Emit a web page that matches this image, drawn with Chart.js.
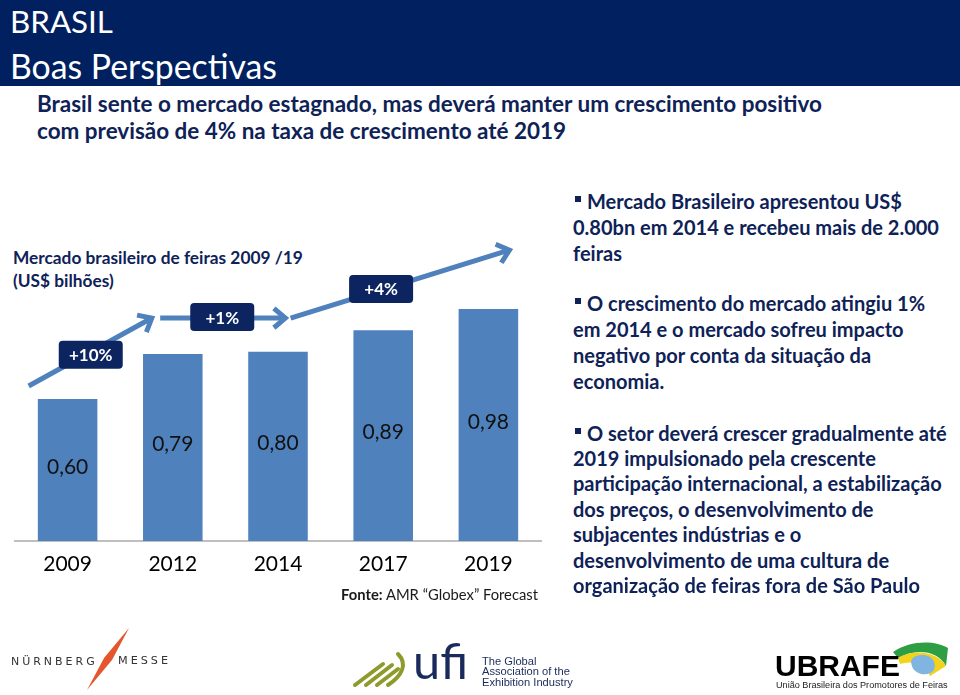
<!DOCTYPE html>
<html>
<head>
<meta charset="utf-8">
<script src="https://cdn.jsdelivr.net/npm/chart.js@4.4.1/dist/chart.umd.min.js"></script>
<style>
html, body { margin: 0; padding: 0; background: #fff; }
#slide { position: relative; width: 960px; height: 695px; overflow: hidden; font-family: Lato, 'Noto Sans', sans-serif; }
#header { position: absolute; left: 0; top: 0; width: 960px; height: 86px; background: #002060; }
.t { position: absolute; white-space: nowrap; line-height: 1; transform: translateY(-50%); }
.navy { color: #0E2257; font-weight: bold; }
.bul { position: absolute; width: 6px; height: 6px; background: #0E2257; }
.uf { font-size: 11px; color: #1B2A5C; font-family: 'Liberation Sans'; }
#chartBox { position: absolute; left: 0; top: 150px; width: 560px; height: 460px; }
#logos { position: absolute; left: 0; top: 0; }
</style>
</head>
<body>
<div id="slide">
  <div id="header"></div>
  <div class="t" data-w="103" style="left:10px;top:22px;color:#fff;font-size:30px">BRASIL</div>
  <div class="t" data-w="267" style="left:10px;top:67px;color:#fff;font-size:30px">Boas Perspectivas</div>

  <div class="t navy sub" data-w="785" style="left:37px;top:104px;font-size:20px">Brasil sente o mercado estagnado, mas deverá manter um crescimento positivo</div>
  <div class="t navy sub" style="left:37px;top:131px;font-size:20px">com previsão de 4% na taxa de crescimento até 2019</div>

  <div class="t navy ttl" data-w="290" style="left:13px;top:258px;font-size:17px">Mercado brasileiro de feiras 2009 /19</div>
  <div class="t navy ttl" style="left:13px;top:281px;font-size:17px">(US$ bilhões)</div>

  <div id="chartBox"><canvas id="chart" width="560" height="460"></canvas></div>

  <div class="t" data-w="197" style="right:422px;top:594px;font-size:13px;color:#1a1a1a"><b>Fonte:</b> AMR “Globex” Forecast</div>

  <div class="bul" style="left:575px;top:196px"></div>
  <div class="t navy rc" style="left:587px;top:201px;font-size:18px">Mercado Brasileiro apresentou US$</div>
  <div class="t navy rc" style="left:573px;top:227px;font-size:18px">0.80bn em 2014 e recebeu mais de 2.000</div>
  <div class="t navy rc" style="left:573px;top:253px;font-size:18px">feiras</div>
  <div class="bul" style="left:575px;top:298px"></div>
  <div class="t navy rc" style="left:587px;top:303px;font-size:18px">O crescimento do mercado atingiu 1%</div>
  <div class="t navy rc" style="left:573px;top:329px;font-size:18px">em 2014 e o mercado sofreu impacto</div>
  <div class="t navy rc" style="left:573px;top:355px;font-size:18px">negativo por conta da situação da</div>
  <div class="t navy rc" style="left:573px;top:381px;font-size:18px">economia.</div>
  <div class="bul" style="left:575px;top:428px"></div>
  <div class="t navy rc" style="left:587px;top:433px;font-size:18px">O setor deverá crescer gradualmente até</div>
  <div class="t navy rc" style="left:573px;top:458px;font-size:18px">2019 impulsionado pela crescente</div>
  <div class="t navy rc" data-w="369" style="left:573px;top:483px;font-size:18px">participação internacional, a estabilização</div>
  <div class="t navy rc" style="left:573px;top:509px;font-size:18px">dos preços, o desenvolvimento de</div>
  <div class="t navy rc" style="left:573px;top:534px;font-size:18px">subjacentes indústrias e o</div>
  <div class="t navy rc" style="left:573px;top:560px;font-size:18px">desenvolvimento de uma cultura de</div>
  <div class="t navy rc" style="left:573px;top:585px;font-size:18px">organização de feiras fora de São Paulo</div>

  <!-- logos -->
  <svg id="logos" width="960" height="695">
    <polygon points="129,628 112,660 87,690 104,658" fill="#E4572E"/>
    <g stroke="#8E9A2B" stroke-width="4" stroke-linecap="round" fill="none">
      <line x1="355" y1="685" x2="383" y2="664"/>
      <line x1="366" y1="685" x2="392" y2="665"/>
      <line x1="377" y1="685" x2="398" y2="669"/>
      <path d="M388 685 C402 676 408 664 398 654"/>
    </g>
    <path d="M893 652 C910 640 935 640 948 648 L946 666 C938 650 915 648 898 658 Z" fill="#2E9E45"/>
    <path d="M898 658 C915 648 938 652 946 666 L930 676 C925 664 912 660 900 664 Z" fill="#F2D21B"/>
    <path d="M916 656 C928 652 938 660 934 670 C928 678 914 674 912 666 C910 660 912 658 916 656 Z" fill="#7FB5E0"/>
  </svg>
  <div class="t" data-w="83" style="left:11px;top:661px;font-size:13px;letter-spacing:3px;color:#333;font-family:'DejaVu Sans'">NÜRNBERG</div>
  <div class="t" data-w="51" style="left:118px;top:661px;font-size:13px;letter-spacing:3px;color:#333;font-family:'DejaVu Sans'">MESSE</div>
  <div class="t" data-w="55" style="left:413px;top:660px;font-size:56px;color:#1B2A5C">ufi</div>
  <div class="t uf" style="left:482px;top:662px">The Global</div>
  <div class="t uf" data-w="88" style="left:482px;top:672px">Association of the</div>
  <div class="t uf" style="left:482px;top:683px">Exhibition Industry</div>
  <div class="t" data-w="125" style="left:775px;top:666px;font-size:31px;font-weight:bold;color:#000;font-family:'Liberation Sans'">UBRAFE</div>
  <div class="t" data-w="172" style="left:776px;top:686px;font-size:10px;color:#222;font-family:'Liberation Sans'">União Brasileira dos Promotores de Feiras</div>
</div>

<script>
// chart data
const years = ['2009', '2012', '2014', '2017', '2019'];
const marketValues = [0.60, 0.79, 0.80, 0.89, 0.98];
const growthLabels = ['+10%', '+1%', '+4%'];
// annotation arrows and boxes, in category index / value units
const growthArrows = [
    [-0.37, 0.655, 0.80, 0.942],
    [0.88, 0.942, 2.07, 0.942],
    [2.12, 0.942, 4.20, 1.229]
];
const growthBoxes = [[0.22, 0.787], [1.47, 0.946], [2.98, 1.065]];

const barBlue = '#4F81BD';
const boxNavy = '#0C2560';

function drawArrow(ctx, x1, y1, x2, y2) {
    const a = Math.atan2(y2 - y1, x2 - x1);
    const h = 15, s = 0.7;
    ctx.beginPath();
    ctx.moveTo(x1, y1);
    ctx.lineTo(x2 - 2 * Math.cos(a), y2 - 2 * Math.sin(a));
    ctx.stroke();
    ctx.beginPath();
    ctx.moveTo(x2 - h * Math.cos(a - s), y2 - h * Math.sin(a - s));
    ctx.lineTo(x2, y2);
    ctx.lineTo(x2 - h * Math.cos(a + s), y2 - h * Math.sin(a + s));
    ctx.stroke();
}

const labelPlugin = {
    id: 'labels',
    afterDatasetsDraw(chart) {
        const ctx = chart.ctx;
        const xs = chart.scales.x, ys = chart.scales.y;
        ctx.save();
        // values inside bars
        ctx.font = '21px Lato';
        ctx.fillStyle = '#111';
        ctx.textAlign = 'center';
        ctx.textBaseline = 'middle';
        chart.getDatasetMeta(0).data.forEach(function(bar, i) {
            const txt = marketValues[i].toFixed(2).replace('.', ',');
            ctx.fillText(txt, bar.x, (bar.y + bar.base) / 2 - 3);
        });
        // growth arrows
        ctx.strokeStyle = barBlue;
        ctx.lineWidth = 5;
        ctx.lineJoin = 'miter';
        growthArrows.forEach(function(a) {
            drawArrow(ctx, xs.getPixelForValue(a[0]), ys.getPixelForValue(a[1]),
                xs.getPixelForValue(a[2]), ys.getPixelForValue(a[3]));
        });
        // growth boxes
        ctx.font = 'bold 17px Lato';
        growthBoxes.forEach(function(b, i) {
            const cx = xs.getPixelForValue(b[0]), cy = ys.getPixelForValue(b[1]);
            ctx.fillStyle = boxNavy;
            ctx.beginPath();
            ctx.roundRect(cx - 32, cy - 14, 64, 28, 4);
            ctx.fill();
            ctx.fillStyle = '#fff';
            ctx.fillText(growthLabels[i], cx, cy + 1);
        });
        ctx.restore();
    }
};

function fitTexts() {
    document.querySelectorAll('.t[data-w]').forEach(function(el) {
        const w = el.getBoundingClientRect().width;
        const fs = parseFloat(getComputedStyle(el).fontSize);
        const nfs = fs * parseFloat(el.dataset.w) / w;
        el.style.fontSize = nfs + 'px';
        // other lines of the same block take the same size
        ['sub', 'ttl', 'rc', 'uf'].forEach(function(g) {
            if (el.classList.contains(g)) {
                document.querySelectorAll('.' + g).forEach(function(o) { o.style.fontSize = nfs + 'px'; });
            }
        });
    });
}

function build() {
    fitTexts();
    new Chart(document.getElementById('chart'), {
        type: 'bar',
        data: {
            labels: years,
            datasets: [{
                data: marketValues,
                backgroundColor: barBlue,
                borderWidth: 0,
                barPercentage: 0.566,
                categoryPercentage: 1
            }]
        },
        options: {
            responsive: false,
            animation: false,
            devicePixelRatio: 1,
            layout: { padding: { left: 15, right: 19, top: 107, bottom: 0 } },
            plugins: { legend: { display: false }, tooltip: { enabled: false } },
            scales: {
                x: {
                    grid: { display: false, drawTicks: false },
                    border: { display: true, color: '#BFBFBF', width: 2 },
                    ticks: { color: '#000', font: { family: 'Lato', size: 21 }, padding: 11 },
                    afterFit: function(scale) { scale.height = 69; }
                },
                y: { display: false, min: 0, max: 1.2 }
            }
        },
        plugins: [labelPlugin]
    });
}

if (document.fonts && document.fonts.ready) {
    document.fonts.load('21px Lato').then(function() { return document.fonts.load('bold 17px Lato'); })
        .then(function() { return document.fonts.ready; }).then(build, build);
} else {
    build();
}
</script>
</body>
</html>
